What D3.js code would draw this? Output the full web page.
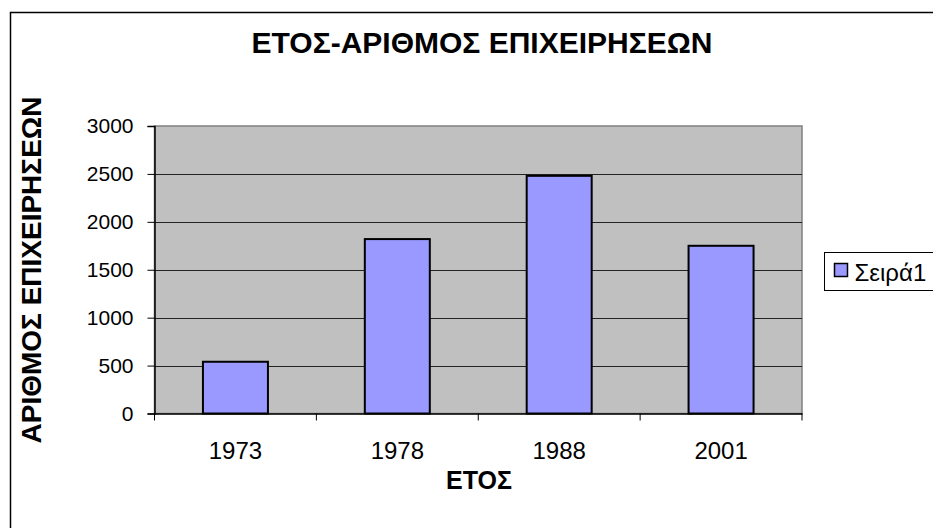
<!DOCTYPE html>
<html>
<head>
<meta charset="utf-8">
<script src="https://cdn.jsdelivr.net/npm/d3@7"></script>
<style>
  body { margin: 0; background: #fff; }
  svg { font-family: "Liberation Sans", Arial, sans-serif; }
</style>
</head>
<body>
<div id="app"></div>
<script>
// data
const years = ["1973", "1978", "1988", "2001"];
const counts = [540, 1820, 2480, 1750];
const yTicks = [0, 500, 1000, 1500, 2000, 2500, 3000];
const seriesName = "Σειρά1";

const W = 933, H = 528;
// plot area
const margin = { top: 126, right: 131, bottom: 114.5, left: 154.5 };
const width = W - margin.left - margin.right;
const height = H - margin.top - margin.bottom;

const svg = d3.select("#app").append("svg")
  .attr("width", W).attr("height", H);

// outer chart border
svg.append("rect")
  .attr("x", 10.5).attr("y", 12.5)
  .attr("width", W + 10).attr("height", H + 10)
  .attr("fill", "#fff").attr("stroke", "#000").attr("stroke-width", 1.5);

const xBand = d3.scaleBand().domain(years).range([0, width]);
const y = d3.scaleLinear().domain([0, 3000]).range([height, 0]);

const g = svg.append("g").attr("transform", `translate(${margin.left},${margin.top})`);

g.append("rect")
  .attr("width", width).attr("height", height)
  .attr("fill", "#c0c0c0").attr("stroke", "#808080").attr("stroke-width", 1.5);

// gridlines
g.selectAll(".grid").data(yTicks.filter(d => d > 0 && d < 3000)).enter()
  .append("line")
  .attr("x1", 0).attr("x2", width)
  .attr("y1", d => Math.round(y(d)) + 0.5).attr("y2", d => Math.round(y(d)) + 0.5)
  .attr("stroke", "#222").attr("stroke-width", 1);

// bars
g.selectAll(".bar").data(counts).enter()
  .append("rect")
  .attr("x", (d, i) => xBand(years[i]) + (xBand.bandwidth() - 65) / 2)
  .attr("width", 65)
  .attr("y", d => y(d))
  .attr("height", d => height - y(d))
  .attr("fill", "#9999ff").attr("stroke", "#000").attr("stroke-width", 2);

// y axis
const yAxis = g.append("g")
  .call(d3.axisLeft(y).tickValues(yTicks).tickFormat(d3.format("d")).tickSize(7).tickPadding(14));
yAxis.select(".domain").attr("stroke", "#000").attr("stroke-width", 1.5);
yAxis.selectAll(".tick line").attr("stroke", "#000");
yAxis.selectAll("text").attr("font-size", 21).attr("fill", "#000")
  .attr("font-family", "Liberation Sans, Arial, sans-serif");

// x axis with ticks between categories
const xAxis = g.append("g").attr("transform", `translate(0,${height})`)
  .call(d3.axisBottom(xBand).tickSize(0).tickPadding(28));
xAxis.select(".domain").attr("stroke", "#000").attr("stroke-width", 1.5);
xAxis.selectAll("text").attr("font-size", 24).attr("fill", "#000")
  .attr("font-family", "Liberation Sans, Arial, sans-serif");
xAxis.selectAll(".sep").data(years.concat(["end"])).enter()
  .append("line")
  .attr("x1", (d, i) => i * xBand.step()).attr("x2", (d, i) => i * xBand.step())
  .attr("y1", 0).attr("y2", 7)
  .attr("stroke", "#000");

// titles
svg.append("text")
  .attr("x", 482).attr("y", 53)
  .attr("text-anchor", "middle")
  .attr("font-size", 30).attr("font-weight", "bold")
  .text("ΕΤΟΣ-ΑΡΙΘΜΟΣ ΕΠΙΧΕΙΡΗΣΕΩΝ");

svg.append("text")
  .attr("x", 479).attr("y", 489)
  .attr("text-anchor", "middle")
  .attr("font-size", 25).attr("font-weight", "bold")
  .text("ΕΤΟΣ");

svg.append("text")
  .attr("transform", "translate(41,270) rotate(-90)")
  .attr("text-anchor", "middle")
  .attr("font-size", 28).attr("font-weight", "bold")
  .text("ΑΡΙΘΜΟΣ ΕΠΙΧΕΙΡΗΣΕΩΝ");

// legend
const leg = svg.append("g").attr("transform", "translate(824.5,252.5)");
leg.append("rect")
  .attr("width", 130).attr("height", 38)
  .attr("fill", "#fff").attr("stroke", "#000").attr("stroke-width", 1);
leg.append("rect")
  .attr("x", 10).attr("y", 11).attr("width", 13).attr("height", 13)
  .attr("fill", "#9999ff").attr("stroke", "#000").attr("stroke-width", 1.5);
leg.append("text")
  .attr("x", 30).attr("y", 28)
  .attr("font-size", 24)
  .text(seriesName);
</script>
</body>
</html>
